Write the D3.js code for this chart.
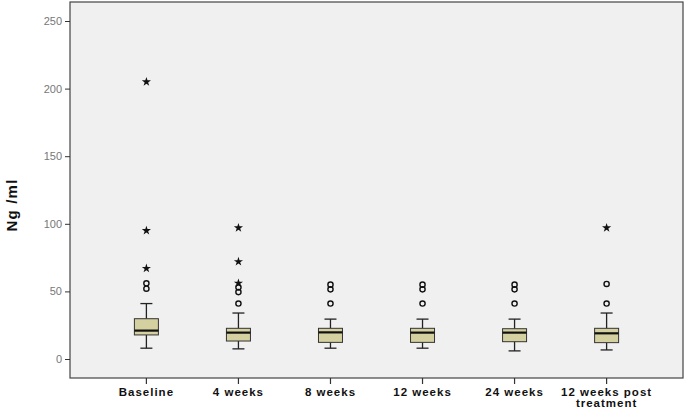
<!DOCTYPE html>
<html><head><meta charset="utf-8">
<script src="https://cdn.jsdelivr.net/npm/d3@7"></script>
<style>body{margin:0;background:#fff}svg{display:block}</style>
</head><body>
<svg id="c" width="685" height="409"></svg>
<script>
const categories = ["Baseline","4 weeks","8 weeks","12 weeks","24 weeks","12 weeks post treatment"];
const whiskerLow  = [8, 7.5, 8, 8, 6, 6.7];
const q1          = [17.8, 13.3, 12.3, 12.3, 12.8, 12.1];
const median      = [21, 19.5, 19.7, 19.5, 19.5, 19];
const q3          = [29.8, 22.7, 22.7, 22.7, 22.4, 22.7];
const whiskerHigh = [41, 34, 29.5, 29.5, 29.5, 34];
const outliers    = [[52, 56], [41, 49.5, 53], [41, 51.5, 55], [41, 51.5, 55], [41, 51.5, 55], [41, 55.5]];
const extremes    = [[67, 95, 205], [56, 72, 97], [], [], [], [97]];
const yTicks      = [0, 50, 100, 150, 200, 250];
const yTitle      = "Ng /ml";

const svg = d3.select("#c");
const L = 70, R = 683, T = 2, B = 378;

const x = d3.scaleBand().domain(categories).range([L, R]).paddingInner(0).paddingOuter(0.33);
const y = d3.scaleLinear().domain([0, 250]).range([359, 21]);

svg.append("rect").attr("x", L).attr("y", T).attr("width", R - L).attr("height", B - T)
  .attr("fill", "#f0f0f0").attr("stroke", "#444").attr("stroke-width", 1.2);

// y axis
const ya = svg.append("g").attr("transform", `translate(${L},0)`)
  .call(d3.axisLeft(y).tickValues(yTicks).tickSize(5).tickPadding(3));
ya.select(".domain").remove();
ya.selectAll(".tick line").attr("stroke", "#333");
ya.selectAll(".tick text").attr("fill", "#777").style("font", "11px 'Liberation Sans', Arial, sans-serif");

// x axis
const xa = svg.append("g").attr("transform", `translate(0,${B})`)
  .call(d3.axisBottom(x).tickSize(6).tickPadding(4));
xa.select(".domain").remove();
xa.selectAll(".tick line").attr("stroke", "#333").attr("stroke-width", 1.2);
xa.selectAll(".tick text").attr("fill", "#111")
  .style("font", "bold 11.5px 'Liberation Sans', Arial, sans-serif").style("letter-spacing", "1px")
  .each(function(d) {
    if (d === "12 weeks post treatment") {
      const t = d3.select(this); t.text(null);
      t.append("tspan").attr("x", 0).attr("dy", "0.71em").text("12 weeks post");
      t.append("tspan").attr("x", 0).attr("dy", "11").text("treatment");
      t.attr("dy", null);
    }
  });

svg.append("text").attr("transform", `translate(17,205) rotate(-90)`)
  .attr("text-anchor", "middle").attr("fill", "#111")
  .style("font", "bold 15px 'Liberation Sans', Arial, sans-serif").style("letter-spacing", "1.2px")
  .text(yTitle);

const bw = 24, cw = 12;
categories.forEach((c, i) => {
  const cx = x(c) + x.bandwidth() / 2;
  const g = svg.append("g");
  g.append("line").attr("x1", cx).attr("x2", cx).attr("y1", y(whiskerLow[i])).attr("y2", y(q1[i])).attr("stroke", "#222").attr("stroke-width", 1.3);
  g.append("line").attr("x1", cx).attr("x2", cx).attr("y1", y(q3[i])).attr("y2", y(whiskerHigh[i])).attr("stroke", "#222").attr("stroke-width", 1.3);
  [whiskerLow[i], whiskerHigh[i]].forEach(v => g.append("line").attr("x1", cx - cw / 2).attr("x2", cx + cw / 2)
    .attr("y1", y(v)).attr("y2", y(v)).attr("stroke", "#222").attr("stroke-width", 1.3));
  g.append("rect").attr("x", cx - bw / 2).attr("width", bw).attr("y", y(q3[i])).attr("height", y(q1[i]) - y(q3[i]))
    .attr("fill", "#d5d09f").attr("stroke", "#333").attr("stroke-width", 1);
  g.append("line").attr("x1", cx - bw / 2).attr("x2", cx + bw / 2).attr("y1", y(median[i])).attr("y2", y(median[i]))
    .attr("stroke", "#111").attr("stroke-width", 2.2);
  outliers[i].forEach(v => g.append("circle").attr("cx", cx).attr("cy", y(v)).attr("r", 2.6)
    .attr("fill", "none").attr("stroke", "#111").attr("stroke-width", 1.4));
  extremes[i].forEach(v => g.append("path").attr("d", d3.symbol().type(d3.symbolStar).size(26)())
    .attr("transform", `translate(${cx},${y(v)})`).attr("fill", "#111"));
});
</script>
</body></html>
